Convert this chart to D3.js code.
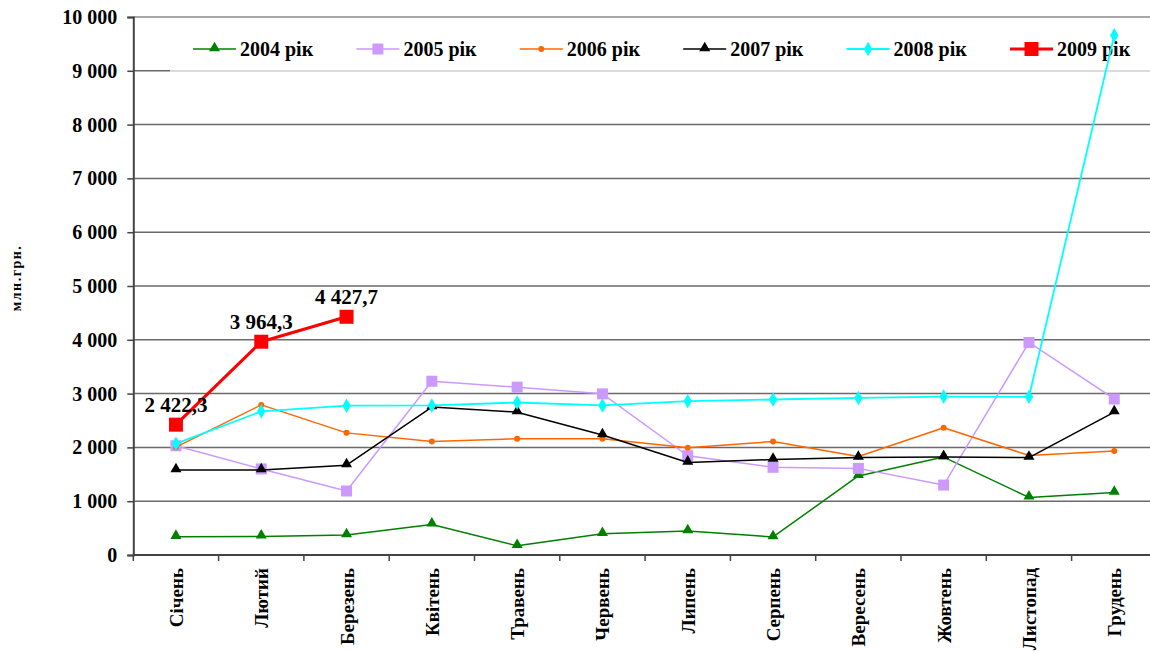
<!DOCTYPE html>
<html>
<head>
<meta charset="utf-8">
<script src="https://cdn.jsdelivr.net/npm/d3@7"></script>
<style>
  html, body { margin: 0; padding: 0; background: #fff; }
  svg { display: block; }
  text { font-family: "Liberation Serif", "Times New Roman", serif; font-weight: bold; fill: #000; }
</style>
</head>
<body>
<svg id="chart" width="1150" height="653"></svg>
<script>
// Monthly figures, млн.грн.
const months = ["Січень", "Лютий", "Березень", "Квітень", "Травень", "Червень",
                "Липень", "Серпень", "Вересень", "Жовтень", "Листопад", "Грудень"];

const values2004 = [340, 345, 370, 568, 170, 395, 445, 335, 1470, 1820, 1070, 1160];
const values2005 = [2030, 1600, 1190, 3230, 3120, 2995, 1845, 1630, 1610, 1300, 3950, 2900];
const values2006 = [2005, 2790, 2270, 2110, 2160, 2160, 1995, 2110, 1830, 2365, 1850, 1935];
const values2007 = [1580, 1580, 1670, 2750, 2655, 2230, 1720, 1775, 1810, 1820, 1810, 2655];
const values2008 = [2070, 2670, 2775, 2780, 2835, 2780, 2860, 2890, 2920, 2945, 2940, 9660];
const values2009 = [2422.3, 3964.3, 4427.7];

const seriesNames = ["2004 рік", "2005 рік", "2006 рік", "2007 рік", "2008 рік", "2009 рік"];
const yTicks = [0, 1000, 2000, 3000, 4000, 5000, 6000, 7000, 8000, 9000, 10000];
const yTitle = "млн.грн.";

const series = [
  { name: seriesNames[0], values: values2004, color: "#008000", marker: "triangle", size: 11, width: 1.5 },
  { name: seriesNames[1], values: values2005, color: "#CC99FF", marker: "square",   size: 11, width: 1.5 },
  { name: seriesNames[2], values: values2006, color: "#FF6600", marker: "circle",   size: 6,  width: 1.5 },
  { name: seriesNames[3], values: values2007, color: "#000000", marker: "triangle", size: 11, width: 1.5 },
  { name: seriesNames[4], values: values2008, color: "#00FFFF", marker: "diamond",  size: 11, width: 1.8 },
  { name: seriesNames[5], values: values2009, color: "#FF0000", marker: "square",   size: 14, width: 3, labels: true }
];

const svg = d3.select("#chart");
const plotLeft = 133.3, plotTop = 17, plotBottom = 555, band = 85.3;

const x = d3.scaleBand().domain(months).range([plotLeft, plotLeft + band * months.length]).paddingInner(0).paddingOuter(0);
const y = d3.scaleLinear().domain([0, 10000]).range([plotBottom, plotTop]);
const cx = m => x(m) + x.bandwidth() / 2;

const fmt = v => d3.format(",")(v).replace(/,/g, " ");
const fmtLabel = v => d3.format(",.1f")(v).replace(/,/g, " ").replace(".", ",");

// Horizontal gridlines
svg.append("g").selectAll("line").data(yTicks.filter(t => t > 0)).join("line")
  .attr("x1", plotLeft).attr("x2", 1150)
  .attr("y1", d => y(d)).attr("y2", d => y(d))
  .attr("stroke", d => d === 10000 ? "#8a8a8a" : "#6a6a6a")
  .attr("stroke-width", 1.5);

// Y axis
const yAxis = d3.axisLeft(y).tickValues(yTicks).tickSize(6).tickPadding(10).tickFormat(fmt);
const gy = svg.append("g").attr("transform", `translate(${plotLeft},0)`).call(yAxis);
gy.select(".domain").attr("stroke", "#444").attr("stroke-width", 2);
gy.selectAll(".tick line").attr("stroke", "#444").attr("stroke-width", 1.5);
gy.selectAll(".tick text").style("font-size", "20px").style("font-family", "Liberation Serif, serif")
  .style("font-weight", "bold").attr("fill", "#000");

// X axis: ticks on band boundaries, rotated labels
const gx = svg.append("g").attr("transform", `translate(0,${plotBottom})`);
gx.append("line").attr("x1", plotLeft).attr("x2", 1150).attr("y1", 0).attr("y2", 0)
  .attr("stroke", "#444").attr("stroke-width", 2);
gx.selectAll(".tk").data(months.map((m, i) => i).concat([months.length])).join("line")
  .attr("class", "tk")
  .attr("x1", i => plotLeft + i * band).attr("x2", i => plotLeft + i * band)
  .attr("y1", 0).attr("y2", 6)
  .attr("stroke", "#444").attr("stroke-width", 1.5);
gx.selectAll("text").data(months).join("text")
  .attr("transform", m => `translate(${cx(m) + 7},13) rotate(-90)`)
  .attr("text-anchor", "end")
  .style("font-size", "19px")
  .text(m => m);

// Y axis title
svg.append("text")
  .attr("transform", "translate(21,278) rotate(-90)")
  .attr("text-anchor", "middle")
  .style("font-size", "14px")
  .style("letter-spacing", "1.5px")
  .text(yTitle);

// Legend
const lg = svg.append("g");
lg.append("rect").attr("x", 170).attr("y", 19).attr("width", 990).attr("height", 53).attr("fill", "#fff");
lg.append("line").attr("x1", 170).attr("x2", 1150).attr("y1", 71).attr("y2", 71)
  .attr("stroke", "#cfcfcf").attr("stroke-width", 1.5);

function drawMarker(g, type, size, color) {
  if (type === "circle") {
    g.append("circle").attr("r", size / 2).attr("fill", color);
  } else {
    const symType = type === "triangle" ? d3.symbolTriangle : type === "square" ? d3.symbolSquare : d3.symbolDiamond;
    const area = type === "triangle" ? size * size * 0.433 : type === "square" ? size * size : size * size * 0.5;
    g.append("path").attr("d", d3.symbol().type(symType).size(area)()).attr("fill", color)
      .attr("transform", type === "triangle" ? "translate(0,-1)" : null);
  }
}

series.forEach((s, i) => {
  const lx = 193 + i * 163.4, ly = 49;
  const item = lg.append("g");
  item.append("line").attr("x1", lx).attr("x2", lx + 43).attr("y1", ly).attr("y2", ly)
    .attr("stroke", s.color).attr("stroke-width", s.width);
  drawMarker(item.append("g").attr("transform", `translate(${lx + 21.5},${ly})`), s.marker, s.size, s.color);
  item.append("text").attr("x", lx + 47).attr("y", ly + 7).style("font-size", "20px").text(s.name);
});

// Series lines and markers
const line = d3.line().x((d, i) => cx(months[i])).y(d => y(d));
series.forEach(s => {
  const g = svg.append("g");
  g.append("path").datum(s.values).attr("d", line)
    .attr("fill", "none").attr("stroke", s.color).attr("stroke-width", s.width)
    .attr("stroke-linejoin", "round");
  s.values.forEach((v, i) => {
    drawMarker(g.append("g").attr("transform", `translate(${cx(months[i])},${y(v)})`), s.marker, s.size, s.color);
  });
  if (s.labels) {
    g.selectAll(".lbl").data(s.values).join("text")
      .attr("class", "lbl")
      .attr("x", (d, i) => cx(months[i]))
      .attr("y", d => y(d) - 13)
      .attr("text-anchor", "middle")
      .style("font-size", "21px")
      .text(d => fmtLabel(d));
  }
});
</script>
</body>
</html>
